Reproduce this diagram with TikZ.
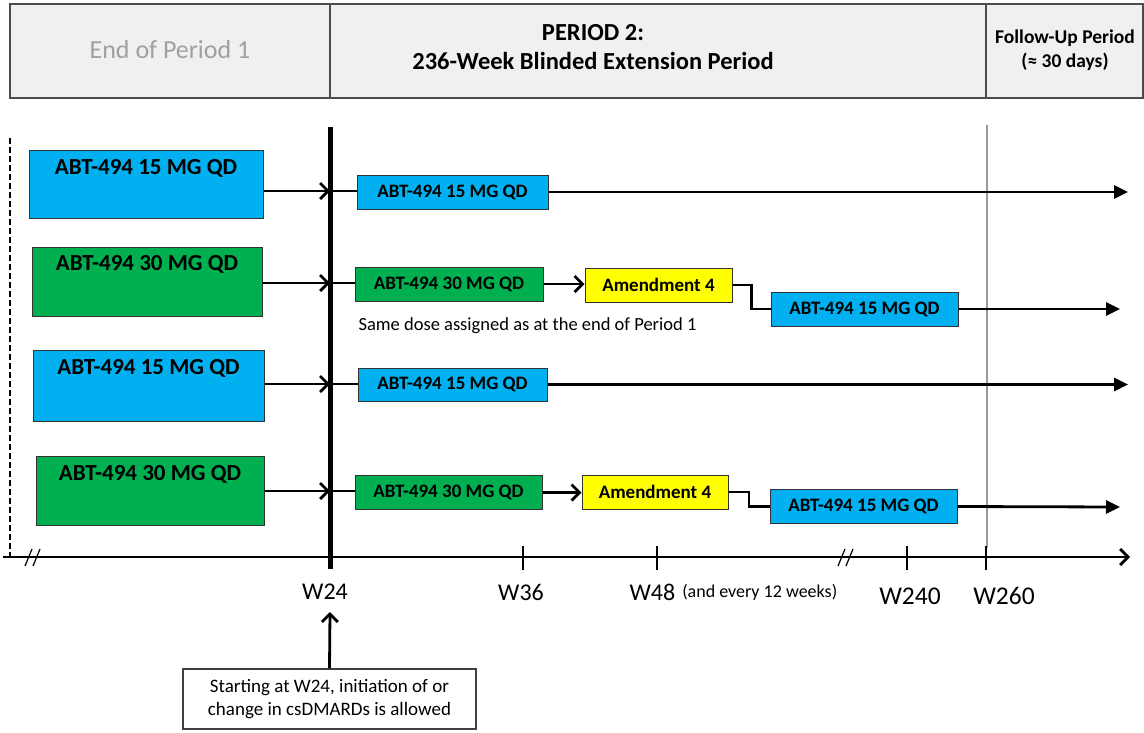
\documentclass[tikz,border=0pt]{standalone}
\usepackage{fontspec}
\setmainfont{Carlito}
\usepackage{tikz}
\usetikzlibrary{arrows.meta}
\usetikzlibrary{calc}

\definecolor{doseblue}{RGB}{0,176,240}
\definecolor{dosegreen}{RGB}{0,176,80}
\definecolor{amendyellow}{RGB}{255,255,0}
\definecolor{hdrgray}{RGB}{240,240,240}
\definecolor{fadetext}{RGB}{160,160,160}

\newcommand{\fs}[1]{\fontsize{#1}{1.2\dimexpr#1pt\relax}\selectfont}

\begin{document}
\begin{tikzpicture}[x=1pt, y=-1pt,
	hdrbox/.style={draw=black!70, line width=1.8pt, fill=hdrgray},
	bigdose/.style={draw=black!80, line width=1pt, inner sep=0pt},
	bigtext/.style={font=\bfseries\fs{23}},
	dose/.style={draw=black!80, line width=1pt, inner sep=0pt, minimum height=34pt, font=\bfseries\fs{19}},
	chev/.style={line width=2.8pt, -{Straight Barb[length=8pt, width=16pt]}},
	tri/.style={line width=2.8pt, -{Triangle[length=14pt, width=13pt]}},
	plain/.style={line width=2.8pt},
	wlabel/.style={font=\fs{24}}
]
\useasboundingbox (0,0) rectangle (1144,732);

\draw[hdrbox] (10,4) rectangle (1143,98);
\draw[hdrbox] (330,4) -- (330,98) (986,4) -- (986,98);
\node[text=fadetext, font=\fs{26}] (p1) at (170,50) {End of Period 1};
\node[align=center, font=\bfseries\fs{24.5}] (p2) at (593,47) {PERIOD 2:\\236-Week Blinded Extension Period};
\node[align=center, font=\bfseries\fs{19.5}] (fu) at (1065,50) {Follow-Up Period\\(≈ 30 days)};

\draw[line width=2.2pt, dash pattern=on 6pt off 3pt] (10,138) -- (10,557);
\draw[black!40, line width=1.2pt] (987,125) -- (987,548);

\coordinate (ax0) at (3,557);
\coordinate (ax1) at (1130,557);
\draw[chev] (ax0) -- (ax1);
\foreach \x in {25,33,838,846}
	\draw[line width=1.2pt] (\x,566) -- (\x+7,549);

\foreach \x/\n in {523/t36, 657/t48, 907/t240, 986/t260}
	\draw[line width=2.4pt] (\x,546) coordinate (\n) -- (\x,570);

\node[wlabel] (w24) at (325,592) {W24};
\node[wlabel] (w36) at (521,592) {W36};
\node[wlabel, anchor=west] (w48) at (626,592) {W48};
\node[font=\fs{18}, anchor=west] (every) at (w48.east) {(and every 12 weeks)};
\node[font=\fs{25.5}] (w240) at (910,596) {W240};
\node[font=\fs{25.5}] (w260) at (1004,596) {W260};

\coordinate (vtop) at (330,127);
\coordinate (vbot) at (330,569);
\draw[line width=5pt] (vtop) -- (vbot);

\node[bigdose, fill=doseblue, minimum width=234pt, minimum height=68pt] (l1) at (146,184) {};
\node[bigdose, fill=dosegreen, minimum width=230pt, minimum height=69pt] (l2) at (147,281.5) {};
\node[bigdose, fill=doseblue, minimum width=231pt, minimum height=71pt] (l3) at (148.5,385.5) {};
\node[bigdose, fill=dosegreen, minimum width=228pt, minimum height=69pt] (l4) at (150,490.5) {};
\node[bigtext] (lt1) at ($(l1.north)+(0,19)$) {ABT-494 15 MG QD};
\node[bigtext] (lt2) at ($(l2.north)+(0,18)$) {ABT-494 30 MG QD};
\node[bigtext] (lt3) at ($(l3.north)+(0,19)$) {ABT-494 15 MG QD};
\node[bigtext] (lt4) at ($(l4.north)+(0,19)$) {ABT-494 30 MG QD};

\coordinate (j1) at (330,191);
\coordinate (j2) at (330,283);
\coordinate (j3) at (330,384);
\coordinate (j4) at (330,491);

\node[dose, fill=doseblue, minimum width=191pt] (r1) at (452.5,192) {ABT-494 15 MG QD};
\node[dose, fill=dosegreen, minimum width=188pt] (r2) at (449,284) {ABT-494 30 MG QD};
\node[dose, fill=amendyellow, minimum width=147pt] (a2) at (658.5,285) {Amendment 4};
\node[dose, fill=doseblue, minimum width=187pt] (s2) at (864.5,309) {ABT-494 15 MG QD};
\node[dose, fill=doseblue, minimum width=189pt, minimum height=33pt] (r3) at (452.5,384.5) {ABT-494 15 MG QD};
\node[dose, fill=dosegreen, minimum width=187pt] (r4) at (448.5,492.5) {ABT-494 30 MG QD};
\node[dose, fill=amendyellow, minimum width=146pt] (a4) at (655,492) {Amendment 4};
\node[dose, fill=doseblue, minimum width=187pt] (s4) at (863.5,506.5) {ABT-494 15 MG QD};
\node[font=\fs{18.5}, anchor=west] (same) at (355,326) {Same dose assigned as at the end of Period 1};

\coordinate (e1) at (1128,192);
\coordinate (e2) at (1120,309);
\coordinate (e3) at (1128,384.5);
\coordinate (e4) at (1120,507);

\foreach \i in {1,2,3,4} {
	\draw[chev] (l\i.east |- j\i) -- (j\i);
	\draw[plain] (j\i) -- (r\i.west |- j\i);
}
\draw[tri] (r1.east) -- (e1);
\draw[tri] (r3.east) -- (e3);
\draw[chev] (r2.east) -- (a2.west |- r2.east);
\draw[chev] (r4.east) -- (a4.west |- r4.east);
\draw[plain] (a2.east) -| ($(a2.east)!0.5!(s2.west)$) |- (s2.west);
\draw[plain] (a4.east) -| ($(a4.east)!0.5!(s4.west)$) |- (s4.west);
\draw[tri] (s2.east) -- (e2);
\draw[tri] (s4.east) -- (e4);

\node[draw=black!75, line width=1.4pt, minimum width=293pt, minimum height=60pt, align=center, font=\fs{19}] (note) at (329.5,699) {Starting at W24, initiation of or\\change in csDMARDs is allowed};
\coordinate (w24up) at (330,612);
\draw[chev] (note.north) -- (w24up);
\end{tikzpicture}
\end{document}
